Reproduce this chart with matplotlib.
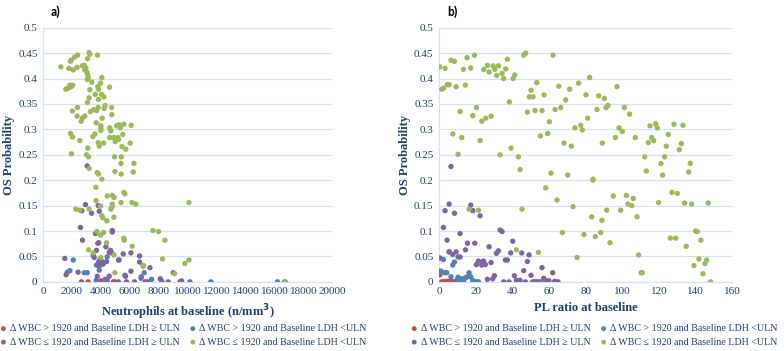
import matplotlib
matplotlib.use('Agg')
import matplotlib.pyplot as plt
from matplotlib.ticker import FormatStrFormatter

# ---- data ----
labels = ['\u0394 WBC > 1920 and Baseline LDH \u2265 ULN',
          '\u0394 WBC > 1920 and Baseline LDH <ULN',
          '\u0394 WBC \u2264 1920 and Baseline LDH \u2265 ULN',
          '\u0394 WBC \u2264 1920 and Baseline LDH <ULN']
colors = ['#C0504D', '#4F81BD', '#8064A2', '#9BBB59']

# panel a) neutrophils at baseline
neu_red_x = [1590, 2650, 3110, 3830, 3990, 3700, 4850, 4960, 9460]
neu_red_y = [0.014, 0, 0, 0.001, 0.002, 0.001, 0, 0, 0]
neu_blue_x = [1680, 1850, 2080, 2840, 3050, 3690, 3830, 3970, 4430, 3880, 3670,
              4430, 5650, 6990, 6780, 7500, 10150, 11600, 16200]
neu_blue_y = [0.019, 0.022, 0.043, 0.018, 0.018, 0.033, 0.039, 0.037, 0.049, 0.023, 0.003,
              0.003, 0.013, 0.018, 0.007, 0.005, 0, 0, 0]
neu_purple_x = [3050, 2930, 2680, 3350, 3810, 3880, 2580, 2720, 3620, 4780, 4780, 3780,
                3850, 4340, 4660, 4730, 4570, 3690, 3460, 3530, 3920, 4060, 4150, 4380,
                3970, 3810, 5210, 5260, 5540, 6070, 6670, 6670, 6920, 7380, 6070, 1500,
                2420, 3740, 4290, 4570, 5700, 6780, 8100, 8210, 9000, 9570, 5210, 5770,
                6320, 7060, 7220, 8650, 16730]
neu_purple_y = [0.228, 0.152, 0.140, 0.135, 0.150, 0.139, 0.107, 0.082, 0.095, 0.101, 0.098,
                0.076, 0.077, 0.069, 0.062, 0.057, 0.058, 0.062, 0.052, 0.048, 0.043, 0.040,
                0.035, 0.040, 0.033, 0.032, 0.043, 0.043, 0.055, 0.057, 0.051, 0.039, 0.031,
                0.028, 0.021, 0.046, 0.019, 0.011, 0.005, 0.011, 0.011, 0.010, 0.006, 0.001,
                0.018, 0.002, 0, 0, 0, 0, 0, 0, 0]
neu_green_x = [1220, 1780, 2080, 2350, 1890, 1940, 2170, 2380, 1570, 1730, 1850, 2050, 1940,
               3180, 3230, 3760, 3070, 2720, 2840, 2950, 2880, 3020, 3070, 3120, 3050, 3370,
               4060, 3970, 3780, 3830, 4590, 3230, 3830, 4040, 4200, 3600, 3180, 3070, 4290,
               4220, 4730, 3810, 3690, 3510, 3280, 4080, 4750, 2030, 2380, 2350, 2720, 2630,
               2880, 3670, 3990, 3990, 3990, 4610, 4680, 5080, 5260, 5580, 6090, 5330, 1890,
               2030, 2540, 3580, 3440, 3810, 3880, 4180, 4610, 4890, 5170, 4980, 5210, 5510,
               5450, 5720, 6020, 1960, 3090, 3000, 3140, 4940, 5400, 5380, 6280, 3180, 3740,
               3830, 4060, 4960, 5400, 6230, 3650, 3660, 4430, 4780, 4910, 5580, 5650, 5380,
               6140, 6410, 10080, 2260, 2540, 3180, 3970, 4780, 4780, 4680, 4060, 4130, 4410,
               4890, 3720, 4180, 3970, 4380, 7590, 7980, 8420, 3140, 3460, 5580, 5610, 6160,
               3990, 4910, 8260, 9800, 10080, 4960, 6920, 9090, 16660]
neu_green_y = [0.423, 0.420, 0.417, 0.422, 0.434, 0.436, 0.442, 0.446, 0.379, 0.381, 0.387,
               0.387, 0.384, 0.451, 0.448, 0.446, 0.439, 0.425, 0.426, 0.421, 0.417, 0.413,
               0.408, 0.402, 0.398, 0.393, 0.402, 0.391, 0.384, 0.379, 0.383, 0.378, 0.359,
               0.369, 0.364, 0.369, 0.362, 0.353, 0.347, 0.341, 0.343, 0.343, 0.337, 0.339,
               0.335, 0.322, 0.329, 0.336, 0.343, 0.326, 0.322, 0.316, 0.326, 0.313, 0.307,
               0.298, 0.302, 0.303, 0.297, 0.307, 0.309, 0.310, 0.308, 0.303, 0.292, 0.285,
               0.278, 0.291, 0.286, 0.274, 0.267, 0.273, 0.284, 0.284, 0.284, 0.276, 0.280,
               0.290, 0.266, 0.261, 0.273, 0.252, 0.263, 0.250, 0.246, 0.246, 0.246, 0.233,
               0.233, 0.223, 0.215, 0.212, 0.202, 0.217, 0.212, 0.216, 0.186, 0.160, 0.169,
               0.170, 0.166, 0.176, 0.173, 0.156, 0.156, 0.153, 0.156, 0.143, 0.141, 0.143,
               0.149, 0.153, 0.148, 0.143, 0.130, 0.126, 0.120, 0.127, 0.099, 0.097, 0.092,
               0.077, 0.101, 0.099, 0.082, 0.063, 0.057, 0.086, 0.082, 0.070, 0.048, 0.053,
               0.045, 0.036, 0.043, 0.018, 0.032, 0.016, 0]

# panel b) PL ratio at baseline
plr_red_x = [0.5, 1.5, 2.4, 3.3, 4.2, 5.5, 6.4, 7.5, 8.4, 10.4, 11.5, 12.4]
plr_red_y = [0.014, 0, 0, 0, 0.001, 0.001, 0.002, 0, 0, 0, 0, 0]
plr_blue_x = [0.2, 1.1, 2.4, 3.1, 4.2, 5.5, 6.5, 7.5, 8.4, 9.5, 10.4, 11.5, 12.4, 13.5,
              14.4, 15.5, 16.4, 17.3, 18.4, 19.5, 20.4, 21.5]
plr_blue_y = [0.021, 0.021, 0.044, 0.018, 0.018, 0.059, 0.010, 0.033, 0.039, 0.003, 0.009,
              0.002, 0.006, 0.003, 0.008, 0.010, 0.018, 0.010, 0.003, 0, 0, 0]
plr_purple_x = [6.5, 0.5, 3.3, 5.5, 2.4, 8.4, 4.4, 11.5, 5.5, 7.5, 9.3, 10.4, 11.5, 14.4,
                15.5, 17.3, 18.4, 19.5, 22.4, 20.4, 21.5, 23.3, 24.2, 25.3, 26.4, 27.3,
                28.4, 29.3, 30.2, 31.3, 32.4, 33.3, 34.4, 35.3, 36.2, 37.3, 38.2, 39.1,
                40.2, 41.1, 42.2, 43.1, 44.2, 45.1, 46.2, 47.1, 48.2, 49.1, 50.2, 51.1,
                52.2, 53.1, 54.2, 55.1, 56.2, 57.1, 58.0, 59.1, 60.0, 62.0, 63.1, 64.0, 64.9]
plr_purple_y = [0.227, 0.047, 0.140, 0.153, 0.107, 0.135, 0.082, 0.095, 0.059, 0.054, 0.059,
                0.049, 0.049, 0.063, 0.076, 0.151, 0.140, 0.076, 0.130, 0.034, 0.041, 0.033,
                0.041, 0.034, 0.005, 0.069, 0.038, 0.006, 0.012, 0.056, 0.061, 0.102, 0.099,
                0, 0.043, 0.043, 0, 0.057, 0.080, 0.012, 0.003, 0.001, 0.003, 0.057, 0.022,
                0, 0.040, 0.053, 0.013, 0, 0, 0, 0, 0, 0.028, 0.007, 0.003, 0, 0.002, 0.018,
                0.001, 0, 0]
plr_green_x = [0.4, 3.3, 1.5, 2.4, 4.5, 5.5, 6.5, 8.4, 9.3, 7.5, 10.4, 11.5, 12.4, 13.3,
               14.4, 15.3, 17.3, 18.4, 19.3, 20.4, 22.4, 23.3, 24.4, 25.5, 26.4, 27.3, 28.4,
               29.5, 30.4, 31.5, 32.4, 33.3, 34.4, 35.3, 36.4, 37.3, 38.4, 39.3, 40.4, 41.3,
               43.3, 44.2, 46.2, 47.3, 48.2, 49.3, 50.2, 51.3, 52.4, 53.3, 55.3, 56.2, 57.3,
               58.2, 59.3, 60.2, 61.1, 62.2, 63.3, 64.4, 65.3, 66.4, 68.2, 69.1, 70.2, 71.3,
               72.2, 74.2, 76.2, 77.3, 78.2, 80.2, 81.1, 82.2, 84.0, 86.2, 87.1, 89.1, 90.2,
               91.1, 92.2, 95.1, 96.2, 97.1, 98.2, 100.0, 101.1, 102.2, 104.0, 106.0, 107.1,
               112.2, 113.1, 114.2, 115.1, 116.0, 117.1, 118.2, 119.1, 121.1, 122.0, 123.1,
               124.0, 125.1, 127.1, 128.2, 130.0, 131.1, 132.2, 133.1, 136.2, 137.1,
               84.0, 16.4, 21.5, 45.3, 73.1, 83.3, 88.9, 91.5, 99.1, 103.1, 105.1, 108.0,
               119.8, 134.0, 137.8, 146.9, 67.3, 79.1, 85.3, 88.2, 93.3, 126.2, 129.1, 134.9,
               140.0, 140.9, 142.9, 42.2, 54.2, 75.3, 108.9, 141.8, 146.0, 145.1, 139.1,
               110.2, 110.9, 144.0, 148.2]
plr_green_y = [0.423, 0.420, 0.379, 0.381, 0.388, 0.388, 0.436, 0.434, 0.384, 0.291, 0.251,
               0.335, 0.284, 0.418, 0.387, 0.441, 0.421, 0.327, 0.446, 0.343, 0.278, 0.316,
               0.418, 0.322, 0.426, 0.413, 0.326, 0.425, 0.418, 0.406, 0.425, 0.250, 0.410,
               0.400, 0.419, 0.438, 0.354, 0.263, 0.400, 0.407, 0.246, 0.221, 0.446, 0.450,
               0.334, 0.364, 0.377, 0.364, 0.337, 0.392, 0.287, 0.337, 0.368, 0.185, 0.292,
               0.315, 0.214, 0.446, 0.339, 0.161, 0.385, 0.343, 0.273, 0.358, 0.210, 0.379,
               0.267, 0.303, 0.391, 0.308, 0.299, 0.368, 0.322, 0.402, 0.202, 0.339, 0.366,
               0.273, 0.361, 0.343, 0.347, 0.169, 0.284, 0.384, 0.303, 0.296, 0.343, 0.170,
               0.330, 0.164, 0.284, 0.246, 0.218, 0.274, 0.307, 0.284, 0.278, 0.311, 0.303,
               0.233, 0.210, 0.246, 0.267, 0.290, 0.176, 0.310, 0.174, 0.260, 0.272, 0.308,
               0.216, 0.233,
               0.200, 0.143, 0.141, 0.143, 0.148, 0.128, 0.121, 0.141, 0.141, 0.153, 0.150,
               0.128, 0.156, 0.155, 0.153, 0.155, 0.097, 0.093, 0.089, 0.097, 0.077, 0.086,
               0.086, 0.070, 0.100, 0.099, 0.082, 0.063, 0.058, 0.048, 0.053, 0.045, 0.043,
               0.036, 0.032, 0.018, 0.018, 0.016, 0.0]

panels = [
    ('a)', 'Neutrophils at baseline (n/mm$^\\mathbf{3}$)', 20000, 2000,
     [(neu_red_x, neu_red_y), (neu_blue_x, neu_blue_y),
      (neu_purple_x, neu_purple_y), (neu_green_x, neu_green_y)]),
    ('b)', 'PL ratio at baseline', 160, 20,
     [(plr_red_x, plr_red_y), (plr_blue_x, plr_blue_y),
      (plr_purple_x, plr_purple_y), (plr_green_x, plr_green_y)]),
]

serif = ['Liberation Serif', 'DejaVu Serif']
text_col = '#1F3F73'
grid_col = '#D6E3F3'

fig = plt.figure(figsize=(7.84, 3.51), dpi=100)
ax_boxes = [[0.055, 0.197, 0.369, 0.724], [0.560, 0.197, 0.374, 0.724]]
title_x = [0.064, 0.570]
leg_x = [-0.002, 0.522]

for i, (tag, xlabel, xmax, xstep, series) in enumerate(panels):
    ax = fig.add_axes(ax_boxes[i])
    handles = []
    for (xs, ys), c, lab in zip(series, colors, labels):
        h = ax.scatter(xs, ys, s=15, color=c, edgecolors='none', label=lab, zorder=3)
        handles.append(h)

    ax.set_xlim(0, xmax)
    ax.set_ylim(0, 0.5)
    ax.set_xticks(range(0, xmax + 1, xstep))
    ax.set_yticks([k * 0.05 for k in range(11)])
    ax.yaxis.set_major_formatter(FormatStrFormatter('%g'))
    ax.grid(axis='y', color=grid_col, linewidth=0.9, zorder=0)
    ax.set_axisbelow(True)
    for sp in ['top', 'right']:
        ax.spines[sp].set_visible(False)
    for sp in ['left', 'bottom']:
        ax.spines[sp].set_color(grid_col)
        ax.spines[sp].set_linewidth(0.9)
    ax.tick_params(length=0, pad=4, labelsize=8, labelcolor=text_col)
    for t in ax.get_xticklabels() + ax.get_yticklabels():
        t.set_family(serif)

    ax.set_xlabel(xlabel, family=serif, fontsize=9, fontweight='bold', color=text_col, labelpad=4)
    ax.set_ylabel('OS Probability', family=serif, fontsize=9, fontweight='bold', color=text_col, labelpad=2)
    fig.text(title_x[i], 0.968, tag, fontsize=9, fontweight='bold', ha='left', va='center',
             family=['Carlito', 'Liberation Sans', 'DejaVu Sans'])

    # legend: column 1 = red, purple ; column 2 = blue, green
    order = [0, 2, 1, 3]
    fig.legend(handles=[handles[k] for k in order], labels=[labels[k] for k in order],
               loc='upper left', bbox_to_anchor=(leg_x[i], 0.079),
               ncol=2, frameon=False, handlelength=0.8, handletextpad=0.25,
               columnspacing=0.9, labelspacing=0.45, markerscale=0.9,
               borderaxespad=0, borderpad=0.1,
               prop={'family': serif, 'size': 7.2}, labelcolor=text_col)

plt.savefig('out.png', dpi=100)
